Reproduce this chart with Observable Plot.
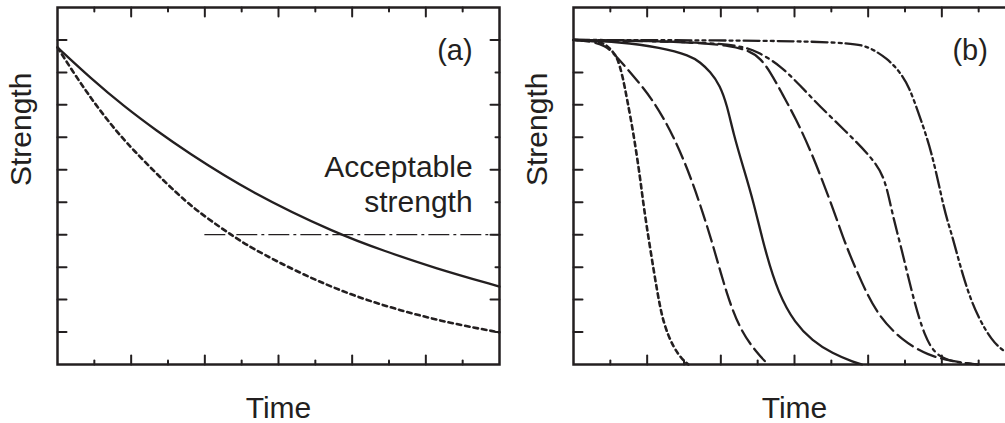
<!DOCTYPE html>
<html>
<head>
<meta charset="utf-8">
<script src="https://cdn.jsdelivr.net/npm/d3@7"></script>
<script src="https://cdn.jsdelivr.net/npm/@observablehq/plot@0.6"></script>
<style>
  html, body { margin: 0; padding: 0; background: #fff; }
  #wrap { position: relative; width: 1005px; height: 423px; overflow: hidden; }
</style>
</head>
<body>
<div id="wrap"></div>
<script>
// ---- Panel (a) data: [time, strength] ----
const aSolid = [[0,0.977],[0.90,0.882],[1.82,0.794],[2.72,0.718],[3.45,0.660],[5.24,0.530],[7.63,0.401],[8.85,0.351],[10.21,0.298],[12,0.240]];
const aDotted = [[0,0.977],[0.46,0.895],[0.90,0.822],[1.36,0.752],[1.98,0.668],[3.34,0.514],[4.07,0.450],[4.70,0.401],[5.24,0.360],[6.60,0.280],[7.96,0.214],[9.31,0.166],[10.67,0.127],[12,0.099]];
const acceptable = [[4,0.40],[12,0.40]];

// ---- Panel (b) data: [time, strength] ----
const bDotted = [[0,1.0],[0.60,0.997],[0.87,0.988],[1.08,0.962],[1.19,0.945],[1.33,0.891],[1.46,0.814],[1.63,0.712],[1.82,0.567],[1.90,0.490],[2.09,0.351],[2.28,0.219],[2.44,0.126],[2.71,0.052],[2.98,0.012],[3.12,0.0]];
const bDash1 = [[0,1.0],[0.46,0.996],[0.87,0.982],[1.08,0.960],[1.62,0.890],[2.17,0.814],[2.71,0.706],[3.17,0.582],[3.52,0.465],[3.79,0.367],[4.17,0.212],[4.53,0.105],[4.99,0.034],[5.26,0.003]];
const bSolid = [[0,1.0],[1.27,0.994],[2.36,0.977],[3.17,0.952],[3.44,0.931],[3.71,0.903],[3.98,0.860],[4.17,0.798],[4.34,0.712],[4.61,0.607],[4.88,0.505],[5.20,0.351],[5.56,0.219],[6.02,0.126],[6.48,0.074],[7.02,0.034],[7.64,0.006],[7.83,0.0]];
const bDash2 = [[0,1.0],[2.09,0.997],[3.44,0.991],[4.25,0.982],[4.80,0.966],[5.07,0.943],[5.34,0.903],[5.69,0.829],[6.02,0.761],[6.48,0.650],[7.10,0.465],[7.37,0.373],[7.83,0.250],[8.27,0.150],[8.92,0.074],[9.62,0.028],[10.27,0.010],[10.81,0.002]];
const bDashDot = [[0,1.0],[3.44,0.994],[4.53,0.982],[4.99,0.965],[5.61,0.922],[6.15,0.860],[6.69,0.795],[7.37,0.721],[8.10,0.638],[8.46,0.575],[8.64,0.470],[8.92,0.351],[9.19,0.219],[9.54,0.080],[9.89,0.022],[10.43,0.006],[10.98,0.0]];
const bDashDotDot = [[0,1.0],[7.40,0.998],[8.05,0.978],[8.51,0.943],[8.86,0.903],[9.13,0.850],[9.32,0.789],[9.73,0.659],[10.08,0.465],[10.27,0.404],[10.62,0.250],[10.98,0.145],[11.36,0.074],[11.65,0.043],[12,0.02]];

// ---- ticks ----
const xMajor = [2,4,6,8,10];
const xMinor = [1,3,5,7,9,11];
const yMajor = [0.2,0.4,0.6,0.8,1.0];
const yMinor = [0.1,0.3,0.5,0.7,0.9];

const INK = "#231f20";
const FONT = "'Liberation Sans', Arial, Helvetica, sans-serif";
const tickShape = { draw(context, l) { context.moveTo(0, 0); context.lineTo(0, -l); } };

function tickMarks() {
  const v = (data, opts) => Plot.vector(data, {shape: tickShape, anchor: "start", stroke: INK, strokeWidth: 2, ...opts});
  return [
    v(xMajor, {x: d => d, y: 0, rotate: 0, length: 9}),
    v(xMinor, {x: d => d, y: 0, rotate: 0, length: 4}),
    v(xMajor, {x: d => d, y: 1.1, rotate: 180, length: 9}),
    v(xMinor, {x: d => d, y: 1.1, rotate: 180, length: 4}),
    v(yMajor, {y: d => d, x: 0, rotate: 90, length: 9}),
    v(yMinor, {y: d => d, x: 0, rotate: 90, length: 9}),
    v(yMajor, {y: d => d, x: 12, rotate: 270, length: 9}),
    v(yMinor, {y: d => d, x: 12, rotate: 270, length: 4})
  ];
}

function labels() {
  return [
    Plot.text(["Strength"], {frameAnchor: "left", dx: -36, rotate: -90, fontSize: 30, fill: INK, fontFamily: FONT, lineAnchor: "middle"}),
    Plot.text(["Time"], {frameAnchor: "bottom", dy: 44, fontSize: 30, fill: INK, fontFamily: FONT, lineAnchor: "middle"})
  ];
}

const base = {
  width: 505, height: 423,
  marginLeft: 57, marginRight: 6, marginTop: 7, marginBottom: 59,
  x: {domain: [0, 12], axis: null},
  y: {domain: [0, 1.1], axis: null},
  style: {fontFamily: FONT, background: "transparent", overflow: "visible"}
};

const line = (data, opts) => Plot.line(data, {x: d => d[0], y: d => d[1], stroke: INK, strokeWidth: 2.3, curve: "basis", ...opts});

const plotA = Plot.plot({
  ...base,
  marks: [
    line(aSolid, {}),
    line(aDotted, {strokeWidth: 2.6, strokeDasharray: "4.5,4"}),
    line(acceptable, {strokeWidth: 1.2, curve: "linear", strokeDasharray: "20,5,2,5"}),
    Plot.text(["(a)"], {x: 11.27, y: 0.968, textAnchor: "end", fontSize: 29, fill: INK, fontFamily: FONT}),
    Plot.text(["Acceptable"], {x: 11.27, y: 0.607, textAnchor: "end", fontSize: 30, fill: INK, fontFamily: FONT}),
    Plot.text(["strength"], {x: 11.27, y: 0.498, textAnchor: "end", fontSize: 30, fill: INK, fontFamily: FONT}),
    ...tickMarks(),
    Plot.frame({stroke: INK, strokeWidth: 2.5}),
    ...labels()
  ]
});

const plotB = Plot.plot({
  ...base,
  marks: [
    line(bDotted, {strokeWidth: 2.6, strokeDasharray: "4.5,4"}),
    line(bDash1, {strokeDasharray: "16,6"}),
    line(bSolid, {}),
    line(bDash2, {strokeDasharray: "19,6"}),
    line(bDashDot, {strokeDasharray: "16,5,3,5"}),
    line(bDashDotDot, {strokeDasharray: "16,4,3,4,3,4"}),
    Plot.text(["(b)"], {x: 11.25, y: 0.968, textAnchor: "end", fontSize: 29, fill: INK, fontFamily: FONT}),
    ...tickMarks(),
    Plot.frame({stroke: INK, strokeWidth: 2.5}),
    ...labels()
  ]
});

const wrap = document.getElementById("wrap");
plotA.style.position = "absolute";
plotB.style.position = "absolute";
plotA.style.top = "0px";
plotB.style.top = "0px";
plotA.style.left = "0px";
plotB.style.left = "516px";
wrap.appendChild(plotA);
wrap.appendChild(plotB);
</script>
</body>
</html>
